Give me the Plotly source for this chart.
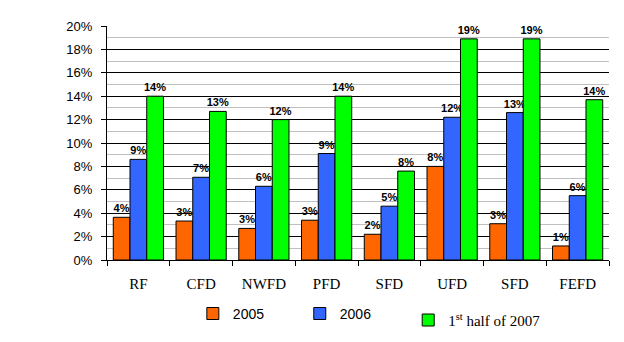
import plotly.graph_objects as go

categories = ["RF", "CFD", "NWFD", "PFD", "SFD", "UFD", "SFD", "FEFD"]
v2005 = [3.65, 3.33, 2.7, 3.4, 2.2, 8.0, 3.1, 1.2]
v2006 = [8.6, 7.07, 6.3, 9.1, 4.6, 12.2, 12.6, 5.5]
v2007h1 = [14.0, 12.7, 12.0, 14.0, 7.6, 18.9, 18.9, 13.7]
series_names = ["2005", "2006", "1<sup>st</sup> half of 2007"]
colors = ["#FF6600", "#3366FF", "#00FF00"]
y_ticks = list(range(0, 21, 2))

xpos = list(range(len(categories)))
legend_ids = ["legend", "legend2", "legend3"]

fig = go.Figure()
for name, vals, col, lg in zip(series_names, [v2005, v2006, v2007h1], colors, legend_ids):
    fig.add_trace(go.Bar(
        x=xpos, y=vals, name=name, legend=lg,
        marker=dict(color=col, line=dict(color="black", width=1)),
        texttemplate="%{y:.0f}%", textposition="outside",
        constraintext="none", cliponaxis=False,
        textfont=dict(family="Liberation Sans", size=11, color="black", weight="bold"),
        hoverinfo="skip",
    ))

common_legend = dict(orientation="h", xanchor="left", yanchor="top",
                     bgcolor="rgba(0,0,0,0)", borderwidth=0)
fig.update_layout(
    width=624, height=342,
    margin=dict(l=107, r=15, t=26, b=82, autoexpand=False),
    paper_bgcolor="white", plot_bgcolor="white",
    barmode="group", bargap=0.2, bargroupgap=0,
    showlegend=True,
    legend=dict(common_legend, x=0.171, y=-0.162,
                font=dict(family="Liberation Sans", size=14, color="black")),
    legend2=dict(common_legend, x=0.384, y=-0.162,
                 font=dict(family="Liberation Sans", size=14, color="black")),
    legend3=dict(common_legend, x=0.600, y=-0.187,
                 font=dict(family="Liberation Serif", size=15, color="black")),
    font=dict(family="Liberation Sans", color="black"),
)

fig.update_xaxes(
    range=[-0.5, len(categories) - 0.5],
    tickmode="array", tickvals=xpos, ticktext=categories,
    ticks="", showgrid=False, zeroline=False,
    showline=True, linecolor="black", linewidth=1,
    tickfont=dict(family="Liberation Serif", size=15, color="black"),
    ticklabelstandoff=10,
    minor=dict(tickmode="array", tickvals=[i - 0.5 for i in range(len(categories) + 1)],
               ticks="outside", ticklen=5, tickcolor="black", tickwidth=1, showgrid=False),
)

fig.update_yaxes(
    range=[0, 20], tickmode="array", tickvals=y_ticks,
    ticktext=[f"{t}%" for t in y_ticks],
    ticks="outside", ticklen=5, tickcolor="black", tickwidth=1,
    showgrid=True, gridcolor="black", gridwidth=1,
    zeroline=False,
    showline=True, linecolor="black", linewidth=1,
    tickfont=dict(family="Liberation Sans", size=13, color="black"),
    ticklabelstandoff=6,
    minor=dict(dtick=1, showgrid=True, gridcolor="#C0C0C0", gridwidth=1, ticks=""),
)

fig.write_html("out.html")
